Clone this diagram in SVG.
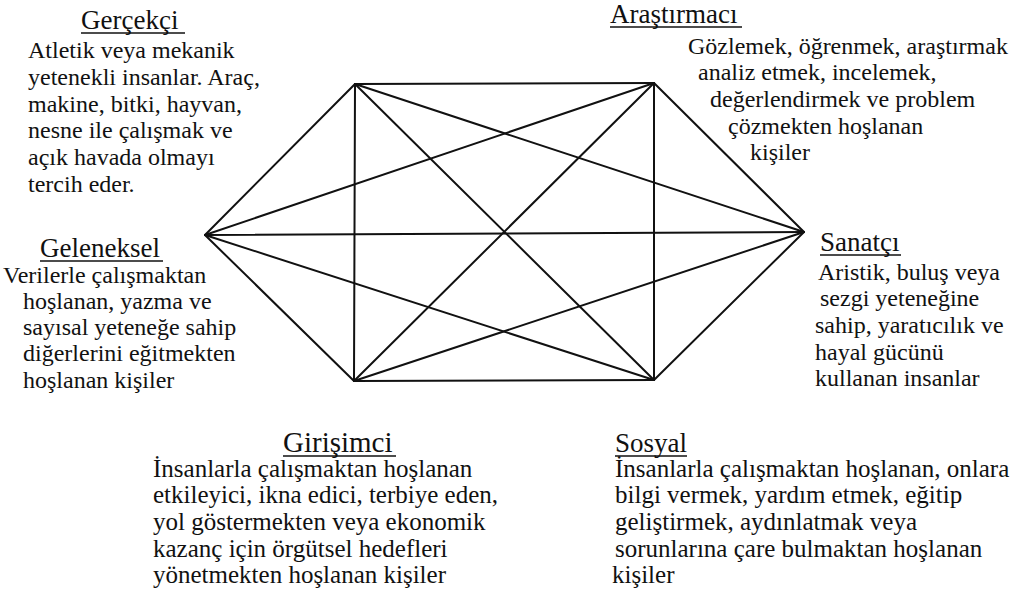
<svg xmlns="http://www.w3.org/2000/svg" width="1018" height="603" viewBox="0 0 1018 603">
<style>
.c line{stroke:#111;stroke-width:2;stroke-linecap:round}
.u{stroke:#111;stroke-width:1.3}
.n{font-family:'Liberation Serif',serif;fill:#111;font-size:24px}
.b{font-size:25px}
.h{font-size:27px}
</style>
<rect width="1018" height="603" fill="#fff"/>
<g id="connectors" class="c">
<line x1="205" y1="235" x2="355" y2="84"/>
<line x1="205" y1="235" x2="654" y2="83"/>
<line x1="205" y1="235" x2="804" y2="232"/>
<line x1="205" y1="235" x2="654" y2="380"/>
<line x1="205" y1="235" x2="354" y2="381"/>
<line x1="355" y1="84" x2="654" y2="83"/>
<line x1="355" y1="84" x2="804" y2="232"/>
<line x1="355" y1="84" x2="654" y2="380"/>
<line x1="355" y1="84" x2="354" y2="381"/>
<line x1="654" y1="83" x2="804" y2="232"/>
<line x1="654" y1="83" x2="654" y2="380"/>
<line x1="654" y1="83" x2="354" y2="381"/>
<line x1="804" y1="232" x2="654" y2="380"/>
<line x1="804" y1="232" x2="354" y2="381"/>
<line x1="654" y1="380" x2="354" y2="381"/>
</g>
<g id="gercekci" class="n" font-family="Liberation Serif">
<text class="h" x="81" y="29">Gerçekçi</text>
<line class="u" x1="81" y1="33" x2="185" y2="33"/>
<text x="28" y="58">Atletik veya mekanik</text>
<text x="28" y="85">yetenekli insanlar. Araç,</text>
<text x="28" y="112">makine, bitki, hayvan,</text>
<text x="28" y="138">nesne ile çalışmak ve</text>
<text x="28" y="165">açık havada olmayı</text>
<text x="28" y="192">tercih eder.</text>
</g>
<g id="arastirmaci" class="n" font-family="Liberation Serif">
<text class="h" x="610" y="23">Araştırmacı</text>
<line class="u" x1="610" y1="27" x2="742" y2="27"/>
<text x="688" y="54">Gözlemek, öğrenmek, araştırmak</text>
<text x="698" y="80">analiz etmek, incelemek,</text>
<text x="710" y="107">değerlendirmek ve problem</text>
<text x="728" y="134">çözmekten hoşlanan</text>
<text x="750" y="160">kişiler</text>
</g>
<g id="geleneksel" class="n" font-family="Liberation Serif">
<text class="h" x="40" y="257">Geleneksel</text>
<line class="u" x1="40" y1="261" x2="163" y2="261"/>
<text x="3" y="283">Verilerle çalışmaktan</text>
<text x="23" y="309">hoşlanan, yazma ve</text>
<text x="23" y="335">sayısal yeteneğe sahip</text>
<text x="23" y="361">diğerlerini eğitmekten</text>
<text x="23" y="388">hoşlanan kişiler</text>
</g>
<g id="sanatci" class="n" font-family="Liberation Serif">
<text class="h" x="820" y="251">Sanatçı</text>
<line class="u" x1="820" y1="255" x2="901" y2="255"/>
<text x="818" y="280">Aristik, buluş veya</text>
<text x="820" y="306">sezgi yeteneğine</text>
<text x="815" y="333">sahip,  yaratıcılık ve</text>
<text x="815" y="360">hayal gücünü</text>
<text x="815" y="386">kullanan insanlar</text>
</g>
<g id="girisimci" class="n" font-family="Liberation Serif">
<text x="283" y="452" font-size="29" style="font-size:29px">Girişimci</text>
<line class="u" x1="283" y1="456" x2="396" y2="456"/>
<text class="b" x="153" y="477">İnsanlarla çalışmaktan hoşlanan</text>
<text class="b" x="153" y="503">etkileyici, ikna edici, terbiye eden,</text>
<text class="b" x="153" y="530">yol göstermekten veya ekonomik</text>
<text class="b" x="153" y="557">kazanç için örgütsel hedefleri</text>
<text class="b" x="153" y="583">yönetmekten hoşlanan kişiler</text>
</g>
<g id="sosyal" class="n" font-family="Liberation Serif">
<text class="h" x="615" y="452">Sosyal</text>
<line class="u" x1="615" y1="456" x2="687" y2="456"/>
<text class="b" x="615" y="477">İnsanlarla çalışmaktan hoşlanan, onlara</text>
<text class="b" x="615" y="503">bilgi vermek, yardım etmek, eğitip</text>
<text class="b" x="615" y="530">geliştirmek, aydınlatmak veya</text>
<text class="b" x="615" y="557">sorunlarına çare bulmaktan hoşlanan</text>
<text class="b" x="612" y="583">kişiler</text>
</g>
</svg>
